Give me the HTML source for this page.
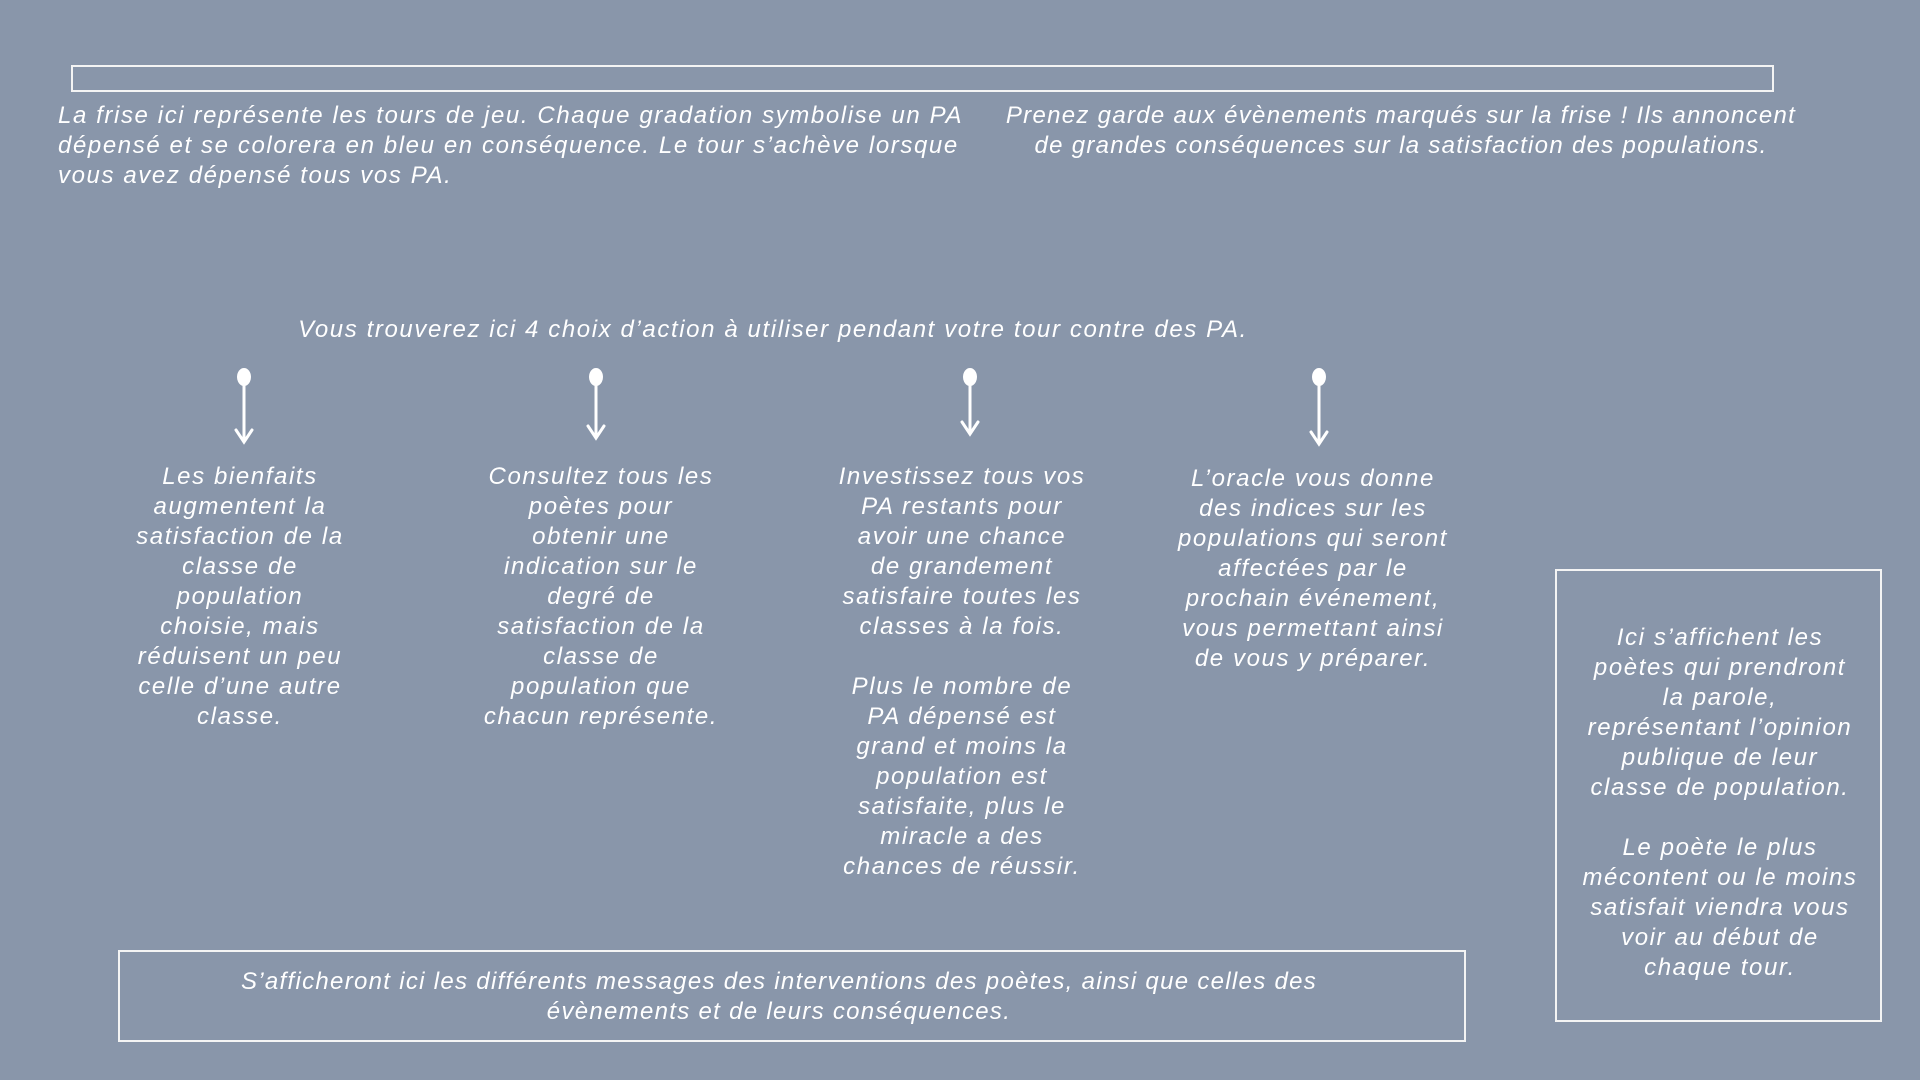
<!DOCTYPE html>
<html><head><meta charset="utf-8"><style>
body{margin:0;width:1920px;height:1080px;background:#8996aa;overflow:hidden;position:relative;font-family:"Liberation Sans",sans-serif;font-style:italic;color:#fff;}
.t{position:absolute;font-size:24px;line-height:30px;white-space:pre;letter-spacing:1.6px;}
.c{text-align:center;transform:translateX(-50%);}
.box{position:absolute;border:2px solid #f4f4f4;box-sizing:border-box;}
svg{position:absolute;left:0;top:0;}
</style></head><body>
<div class="box" style="left:71px;top:65px;width:1703px;height:27px;"></div>
<div class="t" style="left:58px;top:101px;">La frise ici représente les tours de jeu. Chaque gradation symbolise un PA
dépensé et se colorera en bleu en conséquence. Le tour s’achève lorsque
vous avez dépensé tous vos PA.</div>
<div class="t c" style="left:1401px;top:101px;letter-spacing:1.3px;">Prenez garde aux évènements marqués sur la frise ! Ils annoncent
de grandes conséquences sur la satisfaction des populations.</div>
<div class="t c" style="left:773px;top:315px;">Vous trouverez ici 4 choix d’action à utiliser pendant votre tour contre des PA.</div>
<svg width="1920" height="1080">
<g stroke="#fff" stroke-width="3" fill="none" stroke-linecap="round">
<path d="M244 378V440M236 430L244 442L252 430"/>
<path d="M596 378V436M588 426L596 438L604 426"/>
<path d="M970 378V432M962 422L970 434L978 422"/>
<path d="M1319 378V442M1311 432L1319 444L1327 432"/>
</g>
<g fill="#fff"><ellipse cx="244" cy="377" rx="7" ry="9"/><ellipse cx="596" cy="377" rx="7" ry="9"/><ellipse cx="970" cy="377" rx="7" ry="9"/><ellipse cx="1319" cy="377" rx="7" ry="9"/></g>
</svg>
<div class="t c" style="left:240px;top:462px;">Les bienfaits
augmentent la
satisfaction de la
classe de
population
choisie, mais
réduisent un peu
celle d’une autre
classe.</div>
<div class="t c" style="left:601px;top:462px;">Consultez tous les
poètes pour
obtenir une
indication sur le
degré de
satisfaction de la
classe de
population que
chacun représente.</div>
<div class="t c" style="left:962px;top:462px;">Investissez tous vos
PA restants pour
avoir une chance
de grandement
satisfaire toutes les
classes à la fois.

Plus le nombre de
PA dépensé est
grand et moins la
population est
satisfaite, plus le
miracle a des
chances de réussir.</div>
<div class="t c" style="left:1313px;top:464px;">L’oracle vous donne
des indices sur les
populations qui seront
affectées par le
prochain événement,
vous permettant ainsi
de vous y préparer.</div>
<div class="box" style="left:1555px;top:569px;width:327px;height:453px;"></div>
<div class="t c" style="left:1720px;top:623px;">Ici s’affichent les
poètes qui prendront
la parole,
représentant l’opinion
publique de leur
classe de population.

Le poète le plus
mécontent ou le moins
satisfait viendra vous
voir au début de
chaque tour.</div>
<div class="box" style="left:118px;top:950px;width:1348px;height:92px;"></div>
<div class="t c" style="left:779px;top:967px;letter-spacing:1.3px;">S’afficheront ici les différents messages des interventions des poètes, ainsi que celles des
évènements et de leurs conséquences.</div>
</body></html>
